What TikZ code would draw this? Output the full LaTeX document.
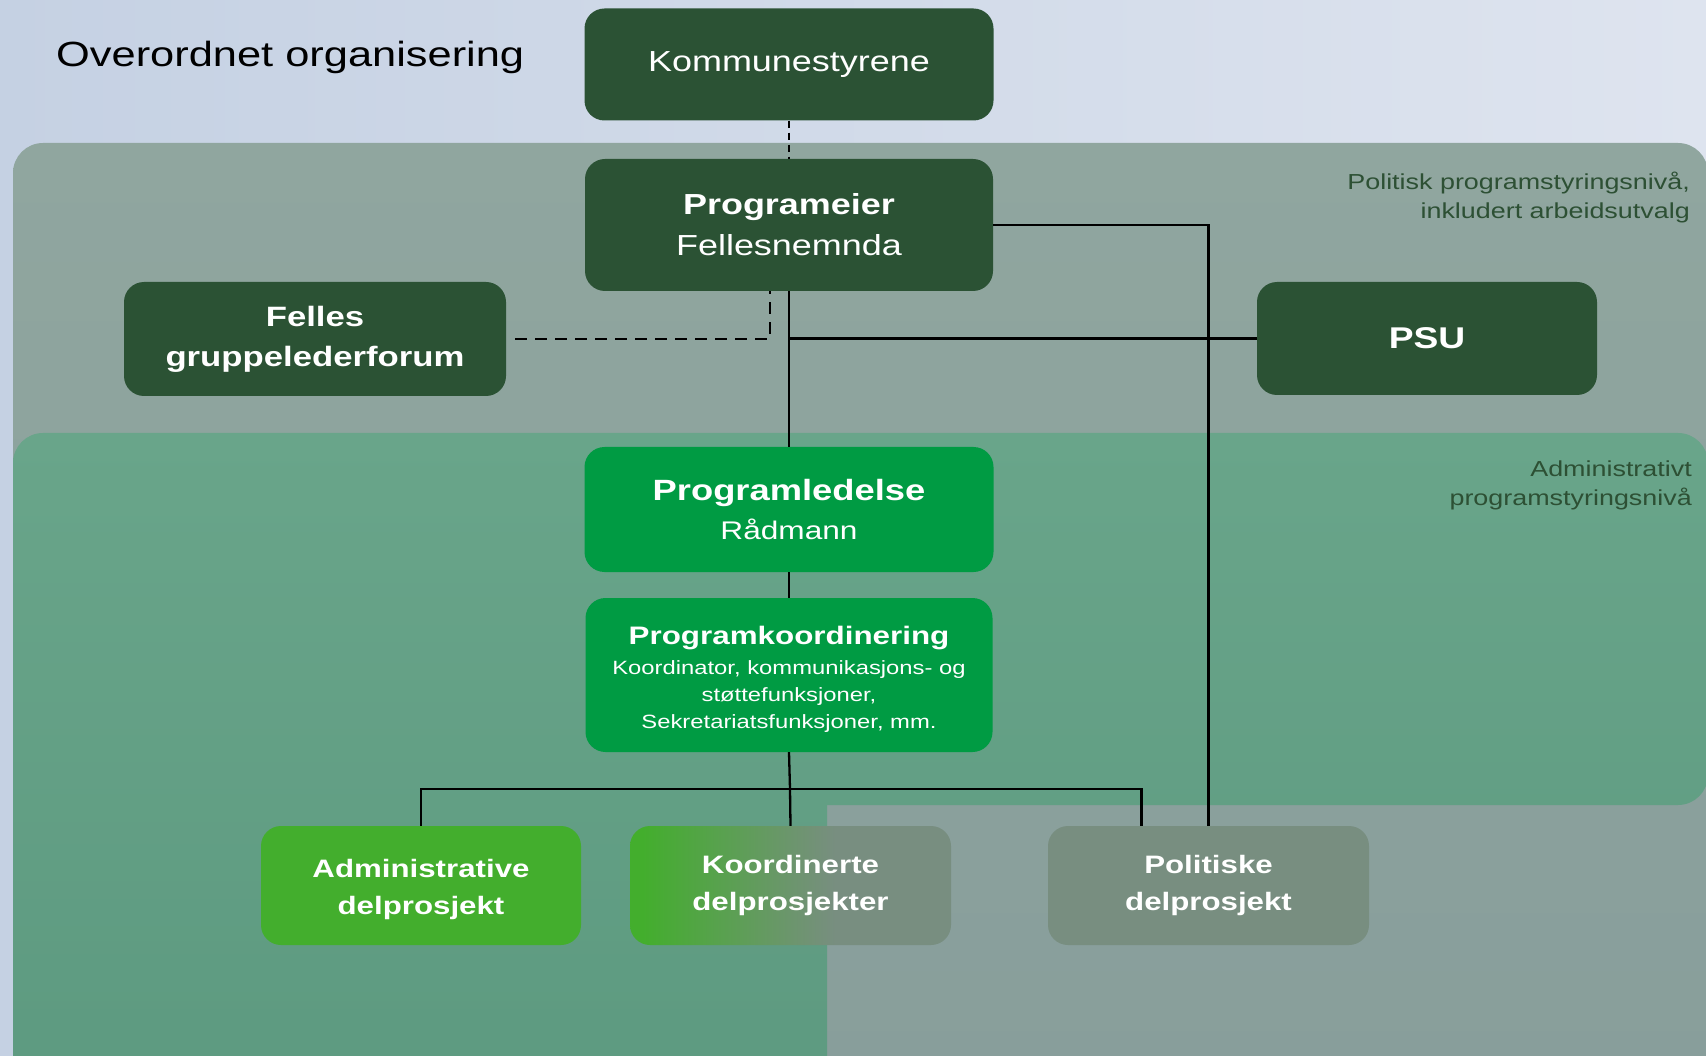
\documentclass[tikz,border=0pt]{standalone}
\usepackage{fontspec}
\setmainfont{Liberation Sans}[FakeStretch=1.24]
\newcommand{\fs}[2]{\fontsize{#1}{#2}\selectfont}
\definecolor{darkbox}{HTML}{2B5234}
\definecolor{ledgreen}{HTML}{009B43}
\definecolor{admgreen}{HTML}{43AE2D}
\definecolor{polgray}{HTML}{788E80}
\definecolor{polband}{HTML}{90A69F}
\definecolor{polbandlow}{HTML}{889E9B}
\definecolor{admband}{HTML}{69A58A}
\definecolor{admbandlow}{HTML}{5D9A80}
\definecolor{bandtext}{HTML}{2D5034}
\definecolor{bgleft}{HTML}{C5D1E3}
\definecolor{bgright}{HTML}{DEE4EF}
\pgfdeclarehorizontalshading{koordshade}{100bp}{color(0bp)=(admgreen); color(27bp)=(admgreen); color(57bp)=(polgray); color(100bp)=(polgray)}

\begin{document}
\begin{tikzpicture}[x=1pt,y=-1pt
	,link/.style={draw=black,line width=2.3pt}
	,dashlink/.style={link,dash pattern=on 12pt off 8pt}]
  \tikzstyle{orgbox}
  =[rounded corners=20pt
  ,text=white,align=center,inner sep=0pt]

  \useasboundingbox (0,0) rectangle (1706,1056);

  % background and levels
  \fill[left color=bgleft,right color=bgright] (0,0) rectangle (1706,1056);
  \shade[top color=polband,bottom color=polbandlow,rounded corners=30pt]
    (13,143) rectangle (1708,1090);
  \shade[top color=admband,bottom color=admbandlow]
    [rounded corners=30pt] (13,433) rectangle (1708,805)
    [sharp corners] (13,600) rectangle (827,1090);

  \node[anchor=base west,inner sep=0pt,font=\fs{35}{40}] (title)
    at (56,67) {Overordnet organisering};
  \node[anchor=north east,align=right,inner sep=0pt,text=bandtext
    ,font=\fs{21.7}{29}] (pollevel) at (1690,171.5)
    {Politisk programstyringsnivå,\\inkludert arbeidsutvalg};
  \node[anchor=north east,align=right,inner sep=0pt,text=bandtext
    ,font=\fs{21.7}{29}] (admlevel) at (1692,460.5)
    {Administrativt\\programstyringsnivå};

  % political boxes
  \node[orgbox,fill=darkbox,minimum width=409pt,minimum height=112pt
    ,font=\fs{29}{34}] (kommune) at (789,64.5) {Kommunestyrene};
  \node[orgbox,fill=darkbox,minimum width=408pt,minimum height=132pt
    ,font=\fs{29}{41}] (eier) at (789,225)
    {{\bfseries Programeier}\\Fellesnemnda};
  \node[orgbox,fill=darkbox,minimum width=382pt,minimum height=114pt
    ,font=\fs{28}{40}\bfseries] (felles) at (315,339)
    {Felles\\gruppelederforum};
  \node[orgbox,fill=darkbox,minimum width=340pt,minimum height=113pt
    ,font=\fs{30}{36}\bfseries] (psu) at (1427,338.5) {PSU};

  % administrative boxes
  \node[orgbox,fill=ledgreen,minimum width=409pt,minimum height=125pt
    ,font=\fs{25.5}{39}] (ledelse) at (789,509.5)
    {{\fs{29.3}{39}\bfseries Programledelse}\\Rådmann};
  \node[orgbox,fill=ledgreen,minimum width=407pt,minimum height=154pt
    ,font=\fs{19.2}{27}] (koord) at (789,675)
    {{\fs{25.3}{27}\bfseries\rule{0pt}{27pt}Programkoordinering}\\[3pt]
     Koordinator, kommunikasjons- og\\støttefunksjoner,\\
     Sekretariatsfunksjoner, mm.};

  % delprosjekt
  \node[orgbox,fill=admgreen,minimum width=320pt,minimum height=119pt
    ,font=\fs{25.2}{37}\bfseries] (admdel) at (421,885.5)
    {\rule{0pt}{26pt}Administrative\\delprosjekt};
  \node[orgbox,shading=koordshade,minimum width=321pt,minimum height=119pt
    ,font=\fs{25.2}{37}\bfseries] (koorddel) at (790.5,885.5)
    {Koordinerte\\delprosjekter};
  \node[orgbox,fill=polgray,minimum width=321pt,minimum height=119pt
    ,font=\fs{25.2}{37}\bfseries] (poldel) at (1208.5,885.5)
    {Politiske\\delprosjekt};

  % connectors
  \draw[dashlink,dash pattern=on 7pt off 5pt] (kommune.south) -- (eier.north);
  \draw[dashlink,shorten <=9pt] (felles.east) -| ([xshift=-19pt]eier.south);
  \draw[link] (eier.south) -- (ledelse.north);
  \draw[link] (eier.south |- psu.west) -- (psu.west);
  \draw[link] (eier.east) -| (poldel.north);
  \draw[link] (ledelse.south) -- (koord.north);
  \coordinate (bus) at (790,789);
  \draw[link] (koord.south) -- (bus);
  \draw[link] (admdel.north) |- (bus) -| ([xshift=-67pt]poldel.north);
  \draw[link] (bus) -- (koorddel.north);

\end{tikzpicture}
\end{document}
